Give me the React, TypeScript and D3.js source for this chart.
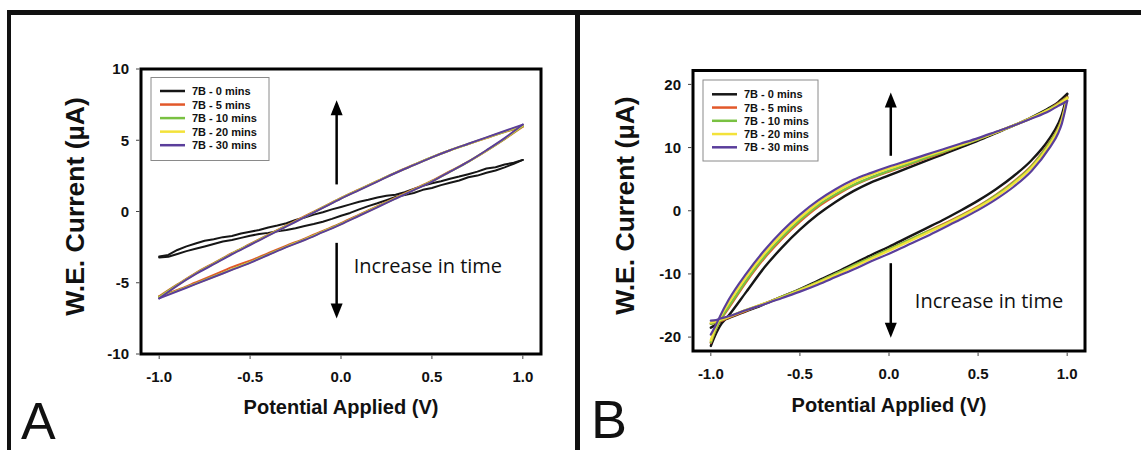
import React from 'react';
import * as d3 from 'd3';

// ---------- shared labels / ticks ----------
const seriesLabels = ['7B - 0 mins', '7B - 5 mins', '7B - 10 mins', '7B - 20 mins', '7B - 30 mins'];
const seriesColors = ['#161616', '#e2582a', '#79c142', '#f3e23a', '#5a3e9b'];
const xTicks = [-1, -0.5, 0, 0.5, 1];
const xTickLabels = ['-1.0', '-0.5', '0.0', '0.5', '1.0'];
const yTicksA = [-10, -5, 0, 5, 10];
const yTicksB = [-20, -10, 0, 10, 20];
const xTitle = 'Potential Applied (V)';
const yTitle = 'W.E. Current (µA)';
const noteText = 'Increase in time';

// ---------- panel A data ----------
const xA = [-1, -0.9, -0.8, -0.7, -0.6, -0.5, -0.4, -0.3, -0.2, -0.1, 0, 0.1, 0.2, 0.3, 0.4, 0.5, 0.6, 0.7, 0.8, 0.9, 1];
const aUpper5 = [-5.95, -5.12, -4.32, -3.62, -2.93, -2.28, -1.63, -0.98, -0.33, 0.3, 0.95, 1.55, 2.14, 2.73, 3.28, 3.82, 4.3, 4.73, 5.16, 5.58, 5.95];
const aLower5 = [-5.95, -5.5, -4.98, -4.45, -3.9, -3.45, -2.92, -2.4, -1.9, -1.36, -0.82, -0.22, 0.38, 0.97, 1.56, 2.16, 2.83, 3.5, 4.26, 5.08, 5.95];
const aUpper10 = [-6.0, -5.15, -4.35, -3.65, -2.96, -2.31, -1.66, -1.01, -0.37, 0.28, 0.93, 1.53, 2.13, 2.72, 3.27, 3.81, 4.3, 4.74, 5.17, 5.6, 6.0];
const aLower10 = [-6.0, -5.55, -5.06, -4.56, -4.06, -3.56, -3.01, -2.46, -1.96, -1.41, -0.86, -0.26, 0.34, 0.93, 1.53, 2.13, 2.8, 3.49, 4.27, 5.1, 6.0];
const aUpper20 = [-6.05, -5.18, -4.38, -3.68, -2.98, -2.33, -1.68, -1.03, -0.38, 0.27, 0.92, 1.52, 2.12, 2.71, 3.26, 3.8, 4.3, 4.74, 5.18, 5.62, 6.05];
const aLower20 = [-6.05, -5.57, -5.08, -4.58, -4.08, -3.58, -3.03, -2.48, -1.98, -1.43, -0.88, -0.28, 0.32, 0.92, 1.52, 2.12, 2.8, 3.5, 4.28, 5.12, 6.05];
const aUpper30 = [-6.1, -5.2, -4.4, -3.7, -3.0, -2.35, -1.7, -1.05, -0.4, 0.25, 0.9, 1.5, 2.1, 2.7, 3.25, 3.8, 4.3, 4.75, 5.2, 5.65, 6.1];
const aLower30 = [-6.1, -5.6, -5.1, -4.6, -4.1, -3.6, -3.05, -2.5, -2.0, -1.45, -0.9, -0.3, 0.3, 0.9, 1.5, 2.1, 2.8, 3.5, 4.3, 5.15, 6.1];

const xA0 = [-1, -0.95, -0.9, -0.85, -0.8, -0.75, -0.7, -0.65, -0.6, -0.55, -0.5, -0.45, -0.4, -0.35, -0.3, -0.25, -0.2, -0.15, -0.1, -0.05, 0, 0.05, 0.1, 0.15, 0.2, 0.25, 0.3, 0.35, 0.4, 0.45, 0.5, 0.55, 0.6, 0.65, 0.7, 0.75, 0.8, 0.85, 0.9, 0.95, 1];
const aUpper0 = [-3.15, -3.05, -2.7, -2.45, -2.25, -2.05, -1.95, -1.8, -1.72, -1.55, -1.42, -1.3, -1.12, -0.98, -0.82, -0.6, -0.42, -0.22, -0.05, 0.15, 0.32, 0.5, 0.68, 0.82, 0.98, 1.1, 1.18, 1.35, 1.58, 1.8, 1.98, 2.12, 2.3, 2.45, 2.62, 2.8, 3.02, 3.1, 3.3, 3.42, 3.62];
const aLower0 = [-3.22, -3.18, -2.98, -2.78, -2.62, -2.45, -2.28, -2.1, -2.0, -1.85, -1.7, -1.58, -1.5, -1.38, -1.3, -1.18, -1.02, -0.88, -0.72, -0.52, -0.3, -0.1, 0.15, 0.38, 0.58, 0.8, 1.02, 1.15, 1.3, 1.52, 1.65, 1.85, 2.02, 2.18, 2.4, 2.52, 2.72, 2.88, 3.1, 3.35, 3.62];

// ---------- panel B data ----------
const xB = [-1, -0.97, -0.95, -0.9, -0.8, -0.7, -0.6, -0.5, -0.4, -0.3, -0.2, -0.1, 0, 0.1, 0.2, 0.3, 0.4, 0.5, 0.6, 0.7, 0.8, 0.9, 0.95, 0.97, 1];
const bUpper0 = [-21.4, -19.4, -18.3, -16.6, -12.8, -9.0, -5.8, -3.0, -0.6, 1.4, 3.1, 4.5, 5.6, 6.7, 7.8, 8.9, 10.0, 11.1, 12.3, 13.5, 14.8, 16.3, 17.2, 17.7, 18.5];
const bLower0 = [-18.5, -18.0, -17.6, -17.0, -15.9, -14.8, -13.6, -12.4, -11.1, -9.8, -8.4, -7.0, -5.7, -4.3, -2.9, -1.5, 0.0, 1.6, 3.4, 5.5, 8.0, 11.4, 13.8, 15.2, 18.5];
const bUpper5 = [-20.9, -18.7, -17.5, -15.4, -11.2, -7.5, -4.4, -1.7, 0.6, 2.4, 4.0, 5.2, 6.2, 7.2, 8.2, 9.2, 10.3, 11.3, 12.4, 13.5, 14.7, 16.1, 17.0, 17.4, 18.0];
const bLower5 = [-17.9, -17.7, -17.5, -16.9, -15.8, -14.7, -13.6, -12.5, -11.3, -10.0, -8.7, -7.4, -6.1, -4.8, -3.5, -2.2, -0.8, 0.7, 2.5, 4.6, 7.1, 10.8, 13.1, 14.5, 18.0];
const bUpper10 = [-20.8, -18.6, -17.4, -15.2, -11.0, -7.3, -4.2, -1.5, 0.8, 2.6, 4.1, 5.3, 6.3, 7.3, 8.3, 9.3, 10.3, 11.3, 12.4, 13.5, 14.7, 16.1, 16.9, 17.3, 17.9];
const bLower10 = [-17.9, -17.6, -17.4, -16.8, -15.7, -14.7, -13.6, -12.5, -11.3, -10.0, -8.7, -7.4, -6.1, -4.8, -3.5, -2.3, -0.9, 0.6, 2.4, 4.5, 7.0, 10.7, 13.0, 14.4, 17.9];
const bUpper20 = [-20.5, -18.2, -17.0, -14.6, -10.4, -6.8, -3.7, -1.1, 1.2, 3.0, 4.5, 5.7, 6.7, 7.6, 8.6, 9.5, 10.4, 11.4, 12.4, 13.5, 14.7, 16.0, 16.8, 17.2, 17.8];
const bLower20 = [-17.7, -17.5, -17.3, -16.8, -15.7, -14.7, -13.7, -12.6, -11.4, -10.2, -8.9, -7.6, -6.3, -5.0, -3.7, -2.4, -1.0, 0.5, 2.2, 4.3, 6.8, 10.4, 12.8, 14.2, 17.8];
const bUpper30 = [-19.6, -18.0, -16.8, -14.1, -9.9, -6.3, -3.2, -0.6, 1.6, 3.4, 4.9, 6.0, 7.0, 7.9, 8.8, 9.7, 10.6, 11.5, 12.5, 13.5, 14.6, 15.8, 16.6, 16.9, 17.4];
const bLower30 = [-17.4, -17.3, -17.1, -16.7, -15.7, -14.8, -13.8, -12.8, -11.7, -10.5, -9.3, -8.0, -6.8, -5.5, -4.2, -2.8, -1.4, 0.1, 1.8, 3.8, 6.3, 9.9, 12.3, 13.8, 17.4];

// arrows (data units): x, upper arrow [from, to], lower arrow [from, to]
const arrowA = [-0.024, 1.9, 7.8, -2.2, -7.5];
const arrowB = [0.01, 8.7, 18.7, -8.3, -20.1];
// note text anchor (data units): x start, baseline y
const noteA = [0.07, -4.3];
const noteB = [0.145, -15.4];

const FONT = "'Liberation Sans', Arial, Helvetica, sans-serif";

type Series = { xs: number[]; upper: number[]; lower: number[]; color: string; label: string; width: number; smooth: boolean };

const panelA = {
  letter: 'A', letterX: 21, letterY: 439, letterSize: 52,
  left: 141, right: 541, top: 69, bottom: 354,
  yDomain: [-10, 10], yTicks: yTicksA,
  yTitleX: 75, yTitleY: 206.5, xTitleY: 414, xLabelOff: 28,
  legend: { x: 151, y: 77.5, w: 118, h: 83, row0: 91, dy: 13.55 },
  arrow: arrowA, note: noteA,
  series: [
    { xs: xA0, upper: aUpper0, lower: aLower0, color: seriesColors[0], label: seriesLabels[0], width: 2, smooth: false },
    { xs: xA, upper: aUpper5, lower: aLower5, color: seriesColors[1], label: seriesLabels[1], width: 2, smooth: true },
    { xs: xA, upper: aUpper10, lower: aLower10, color: seriesColors[2], label: seriesLabels[2], width: 2, smooth: true },
    { xs: xA, upper: aUpper20, lower: aLower20, color: seriesColors[3], label: seriesLabels[3], width: 2, smooth: true },
    { xs: xA, upper: aUpper30, lower: aLower30, color: seriesColors[4], label: seriesLabels[4], width: 2, smooth: true },
  ] as Series[],
};

const panelB = {
  letter: 'B', letterX: 591, letterY: 438, letterSize: 54,
  left: 693, right: 1085, top: 70.5, bottom: 351,
  yDomain: [-22.2, 22.2], yTicks: yTicksB,
  yTitleX: 624.5, yTitleY: 205.6, xTitleY: 412, xLabelOff: 28,
  legend: { x: 703, y: 80, w: 115, h: 81, row0: 94.3, dy: 13.25 },
  arrow: arrowB, note: noteB,
  series: [
    { xs: xB, upper: bUpper0, lower: bLower0, color: seriesColors[0], label: seriesLabels[0], width: 2.4, smooth: true },
    { xs: xB, upper: bUpper5, lower: bLower5, color: seriesColors[1], label: seriesLabels[1], width: 2.4, smooth: true },
    { xs: xB, upper: bUpper10, lower: bLower10, color: seriesColors[2], label: seriesLabels[2], width: 2.4, smooth: true },
    { xs: xB, upper: bUpper20, lower: bLower20, color: seriesColors[3], label: seriesLabels[3], width: 2.4, smooth: true },
    { xs: xB, upper: bUpper30, lower: bLower30, color: seriesColors[4], label: seriesLabels[4], width: 2.2, smooth: true },
  ] as Series[],
};

function Panel({ p }: { p: typeof panelA }) {
  const x = d3.scaleLinear().domain([-1.1, 1.1]).range([p.left, p.right]);
  const y = d3.scaleLinear().domain(p.yDomain).range([p.bottom, p.top]);
  const lineSmooth = d3.line<[number, number]>().x(d => x(d[0])).y(d => y(d[1])).curve(d3.curveMonotoneX);
  const lineRaw = d3.line<[number, number]>().x(d => x(d[0])).y(d => y(d[1]));
  const [ax, u0, u1, l0, l1] = p.arrow;
  const axp = x(ax);
  const headH = 15, headW = 12;
  const lg = p.legend;
  return (
    <g>
      {p.series.map((s, i) => {
        const gen = s.smooth ? lineSmooth : lineRaw;
        const up = s.xs.map((v, j) => [v, s.upper[j]] as [number, number]);
        const lo = s.xs.map((v, j) => [v, s.lower[j]] as [number, number]);
        return (
          <g key={i} fill="none" stroke={s.color} strokeWidth={s.width} strokeLinejoin="round" strokeLinecap="round">
            <path d={gen(up) || ''} />
            <path d={gen(lo) || ''} />
          </g>
        );
      })}
      <rect x={p.left} y={p.top} width={p.right - p.left} height={p.bottom - p.top} fill="none" stroke="#000" strokeWidth={3} />
      {xTicks.map((t, i) => (
        <g key={'xt' + i}>
          <line x1={x(t)} x2={x(t)} y1={p.bottom + 1.5} y2={p.bottom + 5} stroke="#444" strokeWidth={1} />
          <text x={x(t)} y={p.bottom + p.xLabelOff} textAnchor="middle" fontFamily={FONT} fontWeight="bold" fontSize={15} fill="#111">{xTickLabels[i]}</text>
        </g>
      ))}
      {p.yTicks.map((t, i) => (
        <g key={'yt' + i}>
          <line x1={p.left - 1.5} x2={p.left - 5} y1={y(t)} y2={y(t)} stroke="#444" strokeWidth={1} />
          <text x={p.left - 12} y={y(t) + 5.3} textAnchor="end" fontFamily={FONT} fontWeight="bold" fontSize={15} fill="#111">{String(t)}</text>
        </g>
      ))}
      <text x={x(0)} y={p.xTitleY} textAnchor="middle" fontFamily={FONT} fontWeight="bold" fontSize={20} fill="#111">{xTitle}</text>
      <text transform={`translate(${p.yTitleX},${p.yTitleY}) rotate(-90)`} textAnchor="middle" dominantBaseline="central" fontFamily={FONT} fontWeight="bold" fontSize={26.5} fill="#111">{yTitle}</text>
      <rect x={lg.x} y={lg.y} width={lg.w} height={lg.h} fill="#fff" stroke="#8a8a8a" strokeWidth={1} />
      {p.series.map((s, i) => (
        <g key={'lg' + i}>
          <line x1={lg.x + 9} x2={lg.x + 34} y1={lg.row0 + i * lg.dy} y2={lg.row0 + i * lg.dy} stroke={s.color} strokeWidth={2.5} />
          <text x={lg.x + 41} y={lg.row0 + i * lg.dy + 4} fontFamily={FONT} fontWeight="bold" fontSize={11} fill="#111">{s.label}</text>
        </g>
      ))}
      <line x1={axp} x2={axp} y1={y(u0)} y2={y(u1) + headH - 1} stroke="#000" strokeWidth={2.5} />
      <path d={`M${axp},${y(u1)} L${axp - headW / 2},${y(u1) + headH} L${axp + headW / 2},${y(u1) + headH} Z`} fill="#000" />
      <line x1={axp} x2={axp} y1={y(l0)} y2={y(l1) - headH + 1} stroke="#000" strokeWidth={2.5} />
      <path d={`M${axp},${y(l1)} L${axp - headW / 2},${y(l1) - headH} L${axp + headW / 2},${y(l1) - headH} Z`} fill="#000" />
      <text x={x(p.note[0])} y={y(p.note[1])} fontFamily="'Open Sans', 'Noto Sans', sans-serif" fontSize={20} fill="#111">{noteText}</text>
      <text x={p.letterX} y={p.letterY} fontFamily={FONT} fontSize={p.letterSize} fill="#111">{p.letter}</text>
    </g>
  );
}

export default function App() {
  return (
    <svg width={1141} height={450} style={{ position: 'absolute', left: 0, top: 0, background: '#fff' }}>
      <rect x={0} y={0} width={1141} height={450} fill="#fff" />
      <rect x={7} y={10} width={1134} height={5} fill="#111" />
      <rect x={7} y={10} width={4} height={440} fill="#111" />
      <rect x={575} y={10} width={5} height={440} fill="#111" />
      <Panel p={panelA} />
      <Panel p={panelB} />
    </svg>
  );
}
